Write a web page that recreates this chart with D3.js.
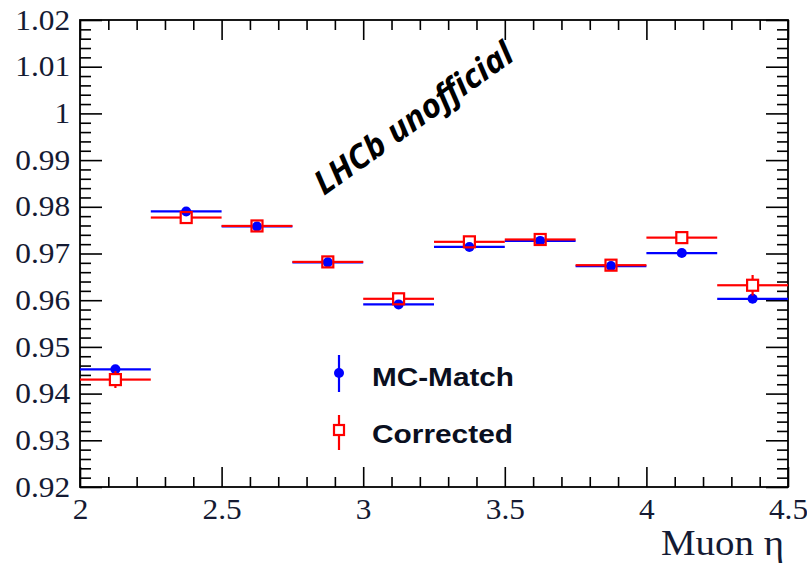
<!DOCTYPE html>
<html>
<head>
<meta charset="utf-8">
<script src="https://cdn.jsdelivr.net/npm/d3@7"></script>
<style>
  body { margin: 0; background: #fff; }
  svg { display: block; }
  .tick line { stroke: #000; stroke-width: 1.6; }
  .lbl text { font-family: "Liberation Serif", "Times New Roman", serif; font-size: 28.5px; fill: #141a33; }
</style>
</head>
<body>
<div id="chart"></div>
<script>
// bin edges in muon eta
const binEdges = [2, 2.25, 2.5, 2.75, 3, 3.25, 3.5, 3.75, 4, 4.25, 4.5];

const mcMatch    = [0.9452, 0.9790, 0.9758, 0.9681, 0.9591, 0.9714, 0.9727, 0.9673, 0.9701, 0.9603];
const mcMatchErr = [0.0005, 0.0004, 0.0004, 0.0004, 0.0004, 0.0004, 0.0004, 0.0004, 0.0004, 0.0006];

const corrected    = [0.9430, 0.9777, 0.9759, 0.9682, 0.9603, 0.9725, 0.9730, 0.9675, 0.9734, 0.9632];
const correctedErr = [0.0018, 0.0008, 0.0006, 0.0008, 0.0007, 0.0008, 0.0007, 0.0008, 0.0006, 0.0022];

const xTicks = [2, 2.5, 3, 3.5, 4, 4.5];
const yTicks = [0.92, 0.93, 0.94, 0.95, 0.96, 0.97, 0.98, 0.99, 1, 1.01, 1.02];

const width = 807, height = 566;
const margin = {top: 20, right: 19, bottom: 79, left: 80};
const w = width - margin.left - margin.right;
const h = height - margin.top - margin.bottom;

const svg = d3.select("#chart").append("svg")
  .attr("width", width)
  .attr("height", height);

const g = svg.append("g")
  .attr("transform", `translate(${margin.left},${margin.top})`);

const x = d3.scaleLinear().domain([2, 4.5]).range([0, w]);
const y = d3.scaleLinear().domain([0.92, 1.02]).range([h, 0]);

const xMinor = d3.range(2, 4.5001, 0.1).filter(v => Math.abs(v * 2 - Math.round(v * 2)) > 1e-6);
const yMinor = d3.range(0.92, 1.0201, 0.002).filter(v => Math.abs(v * 100 - Math.round(v * 100)) > 1e-6);

const labelFont = "'Liberation Serif', 'Times New Roman', serif";

function strip(sel) {
  sel.select(".domain").remove();
  sel.attr("font-family", null).attr("font-size", null);
}

// bottom axis with labels
g.append("g").attr("class", "lbl")
  .attr("transform", `translate(0,${h})`)
  .call(d3.axisBottom(x).tickValues(xTicks).tickSize(-20).tickPadding(12)
    .tickFormat(d3.format("")))
  .call(strip)
  .call(s => s.selectAll("text").attr("transform", "scale(1.1,1)"));
g.append("g")
  .attr("transform", `translate(0,${h})`)
  .call(d3.axisBottom(x).tickValues(xMinor).tickSize(-10).tickFormat(""))
  .call(strip);

// top axis
g.append("g")
  .call(d3.axisTop(x).tickValues(xTicks).tickSize(-20).tickFormat(""))
  .call(strip);
g.append("g")
  .call(d3.axisTop(x).tickValues(xMinor).tickSize(-10).tickFormat(""))
  .call(strip);

// left axis with labels
g.append("g").attr("class", "lbl")
  .call(d3.axisLeft(y).tickValues(yTicks).tickSize(-22).tickPadding(9)
    .tickFormat(d3.format("")))
  .call(strip)
  .call(s => s.selectAll("text").attr("transform", "scale(1.1,1)"));
g.append("g")
  .call(d3.axisLeft(y).tickValues(yMinor).tickSize(-11).tickFormat(""))
  .call(strip);

// right axis
g.append("g")
  .attr("transform", `translate(${w},0)`)
  .call(d3.axisRight(y).tickValues(yTicks).tickSize(-22).tickFormat(""))
  .call(strip);
g.append("g")
  .attr("transform", `translate(${w},0)`)
  .call(d3.axisRight(y).tickValues(yMinor).tickSize(-11).tickFormat(""))
  .call(strip);

// frame
g.append("rect")
  .attr("width", w).attr("height", h)
  .attr("fill", "none").attr("stroke", "#000").attr("stroke-width", 1.8);

// axis title
svg.append("text")
  .attr("x", margin.left + w - 4).attr("y", 555)
  .attr("text-anchor", "end")
  .style("font-family", labelFont).style("font-size", "35px")
  .attr("textLength", 123).attr("lengthAdjust", "spacingAndGlyphs")
  .attr("fill", "#141a33")
  .text("Muon η");

const bins = mcMatch.map((v, i) => ({
  lo: binEdges[i], hi: binEdges[i + 1], c: (binEdges[i] + binEdges[i + 1]) / 2,
  mc: v, mcErr: mcMatchErr[i], cor: corrected[i], corErr: correctedErr[i]
}));

const blue = "#0000ff", red = "#ff0000";
const half = 5.5;

// MC-Match series
const mcG = g.append("g");
mcG.selectAll("line.h").data(bins).join("line")
  .attr("x1", d => x(d.lo)).attr("x2", d => x(d.hi))
  .attr("y1", d => y(d.mc)).attr("y2", d => y(d.mc))
  .attr("stroke", blue).attr("stroke-width", 2.2);
mcG.selectAll("line.v").data(bins).join("line")
  .attr("x1", d => x(d.c)).attr("x2", d => x(d.c))
  .attr("y1", d => y(d.mc - d.mcErr)).attr("y2", d => y(d.mc + d.mcErr))
  .attr("stroke", blue).attr("stroke-width", 2.2);
mcG.selectAll("circle").data(bins).join("circle")
  .attr("cx", d => x(d.c)).attr("cy", d => y(d.mc)).attr("r", 5)
  .attr("fill", blue);

// Corrected series (open squares, lines stop at marker edge)
const cG = g.append("g");
cG.selectAll("line.l").data(bins).join("line")
  .attr("x1", d => x(d.lo)).attr("x2", d => x(d.c) - half)
  .attr("y1", d => y(d.cor)).attr("y2", d => y(d.cor))
  .attr("stroke", red).attr("stroke-width", 2.2);
cG.selectAll("line.r").data(bins).join("line")
  .attr("x1", d => x(d.c) + half).attr("x2", d => x(d.hi))
  .attr("y1", d => y(d.cor)).attr("y2", d => y(d.cor))
  .attr("stroke", red).attr("stroke-width", 2.2);
cG.selectAll("line.u").data(bins).join("line")
  .attr("x1", d => x(d.c)).attr("x2", d => x(d.c))
  .attr("y1", d => Math.min(y(d.cor + d.corErr), y(d.cor) - half)).attr("y2", d => y(d.cor) - half)
  .attr("stroke", red).attr("stroke-width", 2.2);
cG.selectAll("line.d").data(bins).join("line")
  .attr("x1", d => x(d.c)).attr("x2", d => x(d.c))
  .attr("y1", d => y(d.cor) + half).attr("y2", d => Math.max(y(d.cor - d.corErr), y(d.cor) + half))
  .attr("stroke", red).attr("stroke-width", 2.2);
cG.selectAll("rect").data(bins).join("rect")
  .attr("x", d => x(d.c) - half).attr("y", d => y(d.cor) - half)
  .attr("width", half * 2).attr("height", half * 2)
  .attr("fill", "none").attr("stroke", red).attr("stroke-width", 2.2);

// legend
const legend = svg.append("g");
const legendFont = "'Liberation Sans', Arial, sans-serif";
// MC-Match entry
legend.append("line").attr("x1", 339).attr("x2", 339).attr("y1", 355).attr("y2", 392)
  .attr("stroke", blue).attr("stroke-width", 2.2);
legend.append("circle").attr("cx", 339).attr("cy", 373).attr("r", 5).attr("fill", blue);
legend.append("text").attr("x", 372).attr("y", 386)
  .style("font-family", legendFont).style("font-weight", "bold").style("font-size", "26.5px")
  .attr("textLength", 142).attr("lengthAdjust", "spacingAndGlyphs")
  .attr("fill", "#0a0f20").text("MC-Match");
// Corrected entry
legend.append("line").attr("x1", 339).attr("x2", 339).attr("y1", 415).attr("y2", 425)
  .attr("stroke", red).attr("stroke-width", 2.2);
legend.append("line").attr("x1", 339).attr("x2", 339).attr("y1", 435).attr("y2", 450)
  .attr("stroke", red).attr("stroke-width", 2.2);
legend.append("rect").attr("x", 334).attr("y", 425).attr("width", 10).attr("height", 10)
  .attr("fill", "none").attr("stroke", red).attr("stroke-width", 2.2);
legend.append("text").attr("x", 372).attr("y", 443)
  .style("font-family", legendFont).style("font-weight", "bold").style("font-size", "26.5px")
  .attr("textLength", 141).attr("lengthAdjust", "spacingAndGlyphs")
  .attr("fill", "#0a0f20").text("Corrected");

// watermark
svg.append("text")
  .attr("transform", "translate(324,196) rotate(-35.5)")
  .style("font-family", "'Open Sans', 'DejaVu Sans', sans-serif")
  .style("font-weight", "bold").style("font-style", "italic").style("font-size", "33px")
  .attr("textLength", 236).attr("lengthAdjust", "spacingAndGlyphs")
  .attr("fill", "#000").text("LHCb unofficial");
</script>
</body>
</html>
